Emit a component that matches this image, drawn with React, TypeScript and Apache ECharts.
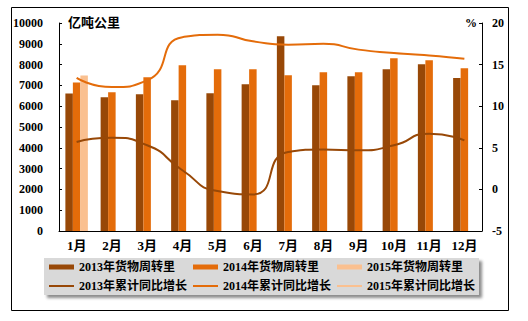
import React, { useEffect, useRef } from "react";
import * as echarts from "echarts";

const months = ["1月", "2月", "3月", "4月", "5月", "6月", "7月", "8月", "9月", "10月", "11月", "12月"];
const turnover2013 = [6610, 6430, 6575, 6290, 6625, 7060, 9360, 7010, 7440, 7780, 8020, 7350];
const turnover2014 = [7140, 6670, 7390, 7970, 7780, 7780, 7490, 7630, 7630, 8300, 8210, 7830];
const turnover2015 = [7475, null, null, null, null, null, null, null, null, null, null, null];
const growth2013 = [5.7, 6.2, 5.3, 2.3, -0.2, -0.6, 4.5, 4.8, 4.7, 5.3, 6.7, 5.9];
const growth2014 = [13.4, 12.3, 13.1, 18.3, 18.6, 17.8, 17.4, 17.5, 16.8, 16.4, 16.1, 15.7];
const growth2015 = [null, null, null, null, null, null, null, null, null, null, null, null];
const leftTicks = { min: 0, max: 10000, interval: 1000 };
const rightTicks = { min: -5, max: 20, interval: 5 };

const names = [
  "2013年货物周转里",
  "2014年货物周转里",
  "2015年货物周转里",
  "2013年累计同比增长",
  "2014年累计同比增长",
  "2015年累计同比增长",
];

const C13 = "#984807";
const C14 = "#E46C0A";
const C15 = "#FAC090";
const FONT = "'Liberation Serif', 'Noto Sans CJK SC', serif";
const CJK = "'Noto Sans CJK SC', sans-serif";

export default function App() {
  const ref = useRef<HTMLDivElement>(null);
  useEffect(() => {
    if (!ref.current) return;
    const chart = echarts.init(ref.current, null, { renderer: "svg" });
    const textStyle = { color: "#000", fontWeight: "bold", fontSize: 12, fontFamily: FONT };
    const legendCols = [49, 193, 337];
    const legends: any[] = names.map((n, i) => ({
      data: [n],
      left: legendCols[i % 3],
      top: i < 3 ? 261 : 280,
      padding: 0,
      itemWidth: 25,
      itemHeight: i < 3 ? 5 : 2,
      icon: "rect",
      textStyle,
      z: 5,
    }));
    chart.setOption({
      animation: false,
      backgroundColor: "#fff",
      grid: { left: 59, right: 46, top: 23, bottom: 90 },
      legend: legends,
      graphic: [
        {
          type: "rect",
          shape: { x: 11.5, y: 7.5, width: 497, height: 303 },
          style: { fill: "none", stroke: "#000", lineWidth: 1 },
          z: 0,
        },
        {
          type: "rect",
          shape: { x: 44, y: 258, width: 435, height: 37 },
          style: {
            fill: "#d9d9d9",
            shadowBlur: 3,
            shadowOffsetX: 3,
            shadowOffsetY: 3,
            shadowColor: "rgba(0,0,0,0.45)",
          },
          z: 1,
        },
        {
          type: "text",
          left: 68,
          top: 15,
          style: { text: "亿吨公里", fill: "#000", font: `bold 13px ${CJK}` },
          z: 5,
        },
        {
          type: "text",
          left: 465,
          top: 17,
          style: { text: "%", fill: "#000", font: `bold 12px ${FONT}` },
          z: 5,
        },
      ],
      xAxis: {
        type: "category",
        data: months,
        axisLine: { lineStyle: { color: "#000", width: 1 } },
        axisTick: { inside: true, length: 3, lineStyle: { color: "#000" } },
        axisLabel: { ...textStyle, fontSize: 13, margin: 8 },
      },
      yAxis: [
        {
          type: "value",
          ...leftTicks,
          axisLine: { show: true, lineStyle: { color: "#000" } },
          axisTick: { show: true, inside: true, length: 3, lineStyle: { color: "#000" } },
          axisLabel: { ...textStyle, margin: 16, formatter: (v: number) => String(v) },
          splitLine: { show: false },
        },
        {
          type: "value",
          ...rightTicks,
          position: "right",
          axisLine: { show: true, lineStyle: { color: "#000" } },
          axisTick: { show: true, inside: true, length: 3, lineStyle: { color: "#000" } },
          axisLabel: { ...textStyle, margin: 10, formatter: (v: number) => String(v) },
          splitLine: { show: false },
        },
      ],
      series: [
        { name: names[0], type: "bar", data: turnover2013, barWidth: 7.5, barGap: "0%", color: C13 },
        { name: names[1], type: "bar", data: turnover2014, barWidth: 7.5, barGap: "0%", color: C14 },
        { name: names[2], type: "bar", data: turnover2015, barWidth: 7.5, barGap: "0%", color: C15 },
        {
          name: names[3], type: "line", yAxisIndex: 1, data: growth2013, smooth: 0.6,
          showSymbol: false, color: C13, lineStyle: { width: 2, color: C13 }, z: 3,
        },
        {
          name: names[4], type: "line", yAxisIndex: 1, data: growth2014, smooth: 0.6,
          showSymbol: false, color: C14, lineStyle: { width: 2, color: C14 }, z: 3,
        },
        {
          name: names[5], type: "line", yAxisIndex: 1, data: growth2015, smooth: 0.6,
          showSymbol: false, color: C15, lineStyle: { width: 2, color: C15 }, z: 3,
        },
      ],
    });
    return () => chart.dispose();
  }, []);
  return (
    <div
      ref={ref}
      style={{ position: "absolute", left: 0, top: 0, width: 528, height: 321 }}
    />
  );
}
